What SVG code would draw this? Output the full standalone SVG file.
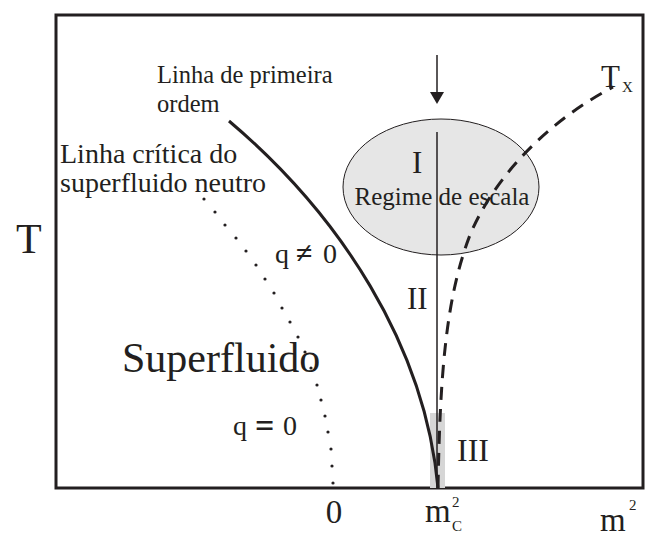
<svg xmlns="http://www.w3.org/2000/svg" width="645" height="538" viewBox="0 0 645 538">
<style>
text{font-family:"Liberation Serif","Times New Roman",serif;fill:#231f20}
.lbl1{font-size:24.5px}
.lbl2{font-size:28px}
.ax{font-size:33px}
.rn{font-size:31px}
.sm{font-size:15px}
.ln{fill:none;stroke:#231f20}
.dot{fill:#231f20}
</style>
<rect width="645" height="538" fill="#fff"/>
<g id="frame"><rect x="56" y="15" width="587" height="473" class="ln" stroke-width="3"/></g>
<g id="critical-region"><rect x="430" y="413" width="15" height="75" fill="#d6d6d6"/></g>
<g id="regime-escala">
<ellipse cx="441" cy="187" rx="98" ry="68" fill="#e6e6e6" stroke="#231f20" stroke-width="1"/>
<text x="412" y="173" class="rn">I</text>
<text x="442" y="205" font-size="25" text-anchor="middle">Regime de escala</text>
</g>
<g id="connectors">
<line x1="437" y1="132" x2="437" y2="488" class="ln" stroke-width="1.5"/>
<path d="M437,55 L437,92" class="ln" stroke-width="1.5"/>
<path d="M430,92 L444,92 L437,104 Z" fill="#231f20"/>
<path d="M229,121 C340,215 425,345 438,488" class="ln" stroke-width="3"/>
<path d="M438,488 C440,380 445,300 470,235 C495,175 550,120 613,87" class="ln" stroke-width="3" stroke-dasharray="13,9"/>
<g class="dot">
<circle cx="204" cy="199" r="1.6"/><circle cx="215" cy="212" r="1.6"/><circle cx="225" cy="225" r="1.6"/><circle cx="236" cy="238" r="1.6"/><circle cx="246" cy="251" r="1.6"/><circle cx="256" cy="265" r="1.6"/><circle cx="265" cy="279" r="1.6"/><circle cx="274" cy="293" r="1.6"/><circle cx="282" cy="308" r="1.6"/><circle cx="290" cy="322" r="1.6"/><circle cx="298" cy="337" r="1.6"/><circle cx="305" cy="352" r="1.6"/><circle cx="311" cy="368" r="1.6"/><circle cx="317" cy="385" r="1.6"/><circle cx="321" cy="400" r="1.6"/><circle cx="325" cy="416" r="1.6"/><circle cx="328" cy="432" r="1.6"/><circle cx="331" cy="449" r="1.6"/><circle cx="332" cy="466" r="1.6"/><circle cx="333" cy="483" r="1.6"/>
</g>
</g>
<g id="labels">
<text x="157" y="83" class="lbl1">Linha de primeira</text>
<text x="157" y="112" class="lbl1">ordem</text>
<text x="60" y="163" class="lbl2">Linha crítica do</text>
<text x="60" y="192" class="lbl2">superfluido neutro</text>
<text x="122" y="372" font-size="42">Superfluido</text>
<text x="275" y="263" font-size="28">q</text>
<text x="296" y="263" font-size="30" font-weight="bold" font-family="DejaVu Sans">≠</text>
<text x="323" y="263" font-size="28">0</text>
<text x="233" y="435" font-size="28">q</text>
<text x="255" y="437" font-size="34" font-weight="bold" font-family="DejaVu Sans">=</text>
<text x="283" y="435" font-size="28">0</text>
<text x="407" y="309" class="rn">II</text>
<text x="457" y="461" font-size="32">III</text>
</g>
<g id="axes-labels">
<text x="16" y="253" font-size="42">T</text>
<text x="601" y="87" font-size="31">T</text>
<text x="622" y="92" class="sm">X</text>
<text x="334" y="523" class="ax" text-anchor="middle">0</text>
<text x="425" y="522" class="ax">m</text>
<text x="452" y="507" class="sm">2</text>
<text x="452" y="531" class="sm">C</text>
<text x="600" y="531" class="ax">m</text>
<text x="629" y="510" class="sm">2</text>
</g>
</svg>
